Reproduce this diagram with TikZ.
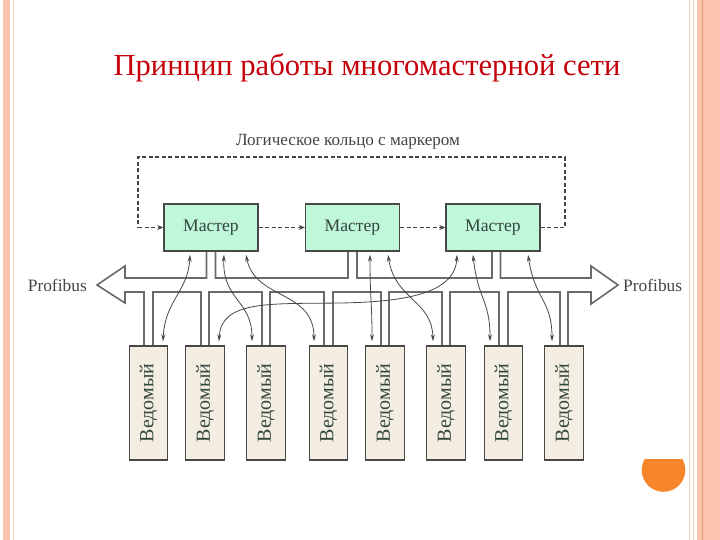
\documentclass[tikz,border=0pt]{standalone}
\usepackage{fontspec}
\setmainfont{Liberation Serif}
\usetikzlibrary{arrows.meta}
\definecolor{titlered}{RGB}{196,0,10}
\definecolor{stripe}{RGB}{250,196,174}
\definecolor{stripedark}{RGB}{240,150,120}
\definecolor{stripelight}{RGB}{236,206,186}
\definecolor{busgray}{RGB}{105,105,105}
\definecolor{boxgray}{RGB}{72,72,72}
\definecolor{mfill}{RGB}{192,246,218}
\definecolor{sfill}{RGB}{243,238,225}
\definecolor{dtext}{RGB}{50,70,62}
\definecolor{ltext}{RGB}{68,68,68}
\definecolor{orangeblob}{RGB}{247,134,42}
\tikzset{
  master/.style={draw=boxgray, line width=1.4pt, fill=mfill, minimum width=94pt, minimum height=47pt, inner sep=0pt, text=dtext, font=\fontsize{17.6}{17.6}\selectfont},
  slave/.style={draw=boxgray, line width=1.4pt, fill=sfill, minimum width=38.5pt, minimum height=114pt, inner sep=0pt, text=dtext},
  ring/.style={draw=ltext, line width=1.1pt, dash pattern=on 4pt off 2.5pt},
  ringarrow/.style={ring, -{Stealth[open, length=6pt, width=5pt]}},
  link/.style={draw=boxgray, line width=0.8pt, {Stealth[length=7pt, width=4pt]}-{Stealth[length=7pt, width=4pt]}},
  bus/.style={draw=busgray, line width=1.6pt, fill=white, line join=miter},
  lbl/.style={text=ltext, inner sep=0pt}
}
\begin{document}
\begin{tikzpicture}[x=1pt, y=-1pt]
\useasboundingbox (0,0) rectangle (720,540);
\fill[white] (0,0) rectangle (720,540);
% slide frame
\fill[stripe] (2.7,0) rectangle (9.5,540);
\draw[stripelight, line width=0.8pt] (13.5,0) -- (13.5,540);
\draw[stripelight, line width=1pt] (689.5,0) -- (689.5,540);
\draw[stripelight, line width=1pt] (693.5,0) -- (693.5,540);
\fill[stripe] (697,0) rectangle (720,540);
\draw[stripedark, line width=0.8pt] (702.5,0) -- (702.5,540);
% orange blob
\begin{scope}
\clip (630,459.3) rectangle (700,500);
\fill[orangeblob] (663.5,470) circle (21.8);
\end{scope}
% title
\node[text=titlered, font=\fontsize{30.6}{30.6}\selectfont, inner sep=0pt] (title) at (367,68) {Принцип работы многомастерной сети};
% bus
\draw[bus] (125,278) -- (206.5,278) -- (206.5,251) -- (215.5,251) -- (215.5,278)
  -- (348,278) -- (348,251) -- (357,251) -- (357,278)
  -- (492,278) -- (492,251) -- (500.5,251) -- (500.5,278)
  -- (591,278) -- (591,266) -- (618,285) -- (591,304) -- (591,292)
  -- (568,292) -- (568,346) -- (560,346) -- (560,292)
  -- (508,292) -- (508,346) -- (499,346) -- (499,292)
  -- (450,292) -- (450,346) -- (442,346) -- (442,292)
  -- (389,292) -- (389,346) -- (381,346) -- (381,292)
  -- (333,292) -- (333,346) -- (324,346) -- (324,292)
  -- (270,292) -- (270,346) -- (262,346) -- (262,292)
  -- (209,292) -- (209,346) -- (201,346) -- (201,292)
  -- (153,292) -- (153,346) -- (144,346) -- (144,292)
  -- (125,292) -- (125,303) -- (97,285) -- (125,266) -- cycle;
\node[lbl, anchor=east, font=\fontsize{17.4}{17.4}\selectfont] (pl) at (87,285) {Profibus};
\node[lbl, anchor=west, font=\fontsize{17.4}{17.4}\selectfont] (pr) at (623,285) {Profibus};
% masters
\node[master] (m1) at (211,227.5) {Мастер};
\node[master] (m2) at (352.5,227.5) {Мастер};
\node[master] (m3) at (493,227.5) {Мастер};
% slaves
\foreach \n/\x in {1/148.5, 2/205, 3/266, 4/328.5, 5/385, 6/446, 7/503.5, 8/564}{
  \node[slave] (s\n) at (\x,403) {\rotatebox{90}{\fontsize{20}{20}\selectfont Ведомый}};
}
% logical ring
\node[lbl, font=\fontsize{17.1}{17.1}\selectfont] (ringlbl) at (348,142) {Логическое кольцо с маркером};
\coordinate (rr) at (565,157);
\coordinate (rl) at (138,157);
\draw[ring] (m3.east) -- (m3.east -| rr) -- (rr) -- (rl) -- (m1.west -| rl);
\draw[ringarrow] (m1.west -| rl) -- (m1.west);
\draw[ringarrow] (m1.east) -- (m2.west);
\draw[ringarrow] (m2.east) -- (m3.west);
% master-slave links
\draw[link] ([xshift=-21pt,yshift=-3pt]m1.south) .. controls (188,292) and (165,300) .. ([yshift=4pt]s1.north -| 163,0);
\draw[link] ([xshift=13pt,yshift=-3pt]m1.south) .. controls (222,300) and (252,300) .. ([yshift=4pt]s3.north -| 252,0);
\draw[link] ([xshift=35pt,yshift=-3pt]m1.south) .. controls (255,300) and (314,290) .. ([yshift=4pt]s4.north -| 314,0);
\draw[link] ([xshift=-36pt,yshift=-3pt]m3.south) .. controls (455,295) and (400,302) .. (340,303) .. controls (270,304) and (221,300) .. ([yshift=4pt]s2.north -| 219,0);
\draw[link] ([xshift=17.5pt,yshift=-3pt]m2.south) .. controls (370,300) and (372,300) .. ([yshift=4pt]s5.north -| 372,0);
\draw[link] ([xshift=35.5pt,yshift=-3pt]m2.south) .. controls (395,300) and (432,300) .. ([yshift=4pt]s6.north -| 433,0);
\draw[link] ([xshift=-20pt,yshift=-3pt]m3.south) .. controls (478,300) and (490,300) .. ([yshift=4pt]s7.north -| 490,0);
\draw[link] ([xshift=35pt,yshift=-3pt]m3.south) .. controls (535,300) and (552,300) .. ([yshift=4pt]s8.north -| 552,0);
\end{tikzpicture}
\end{document}
